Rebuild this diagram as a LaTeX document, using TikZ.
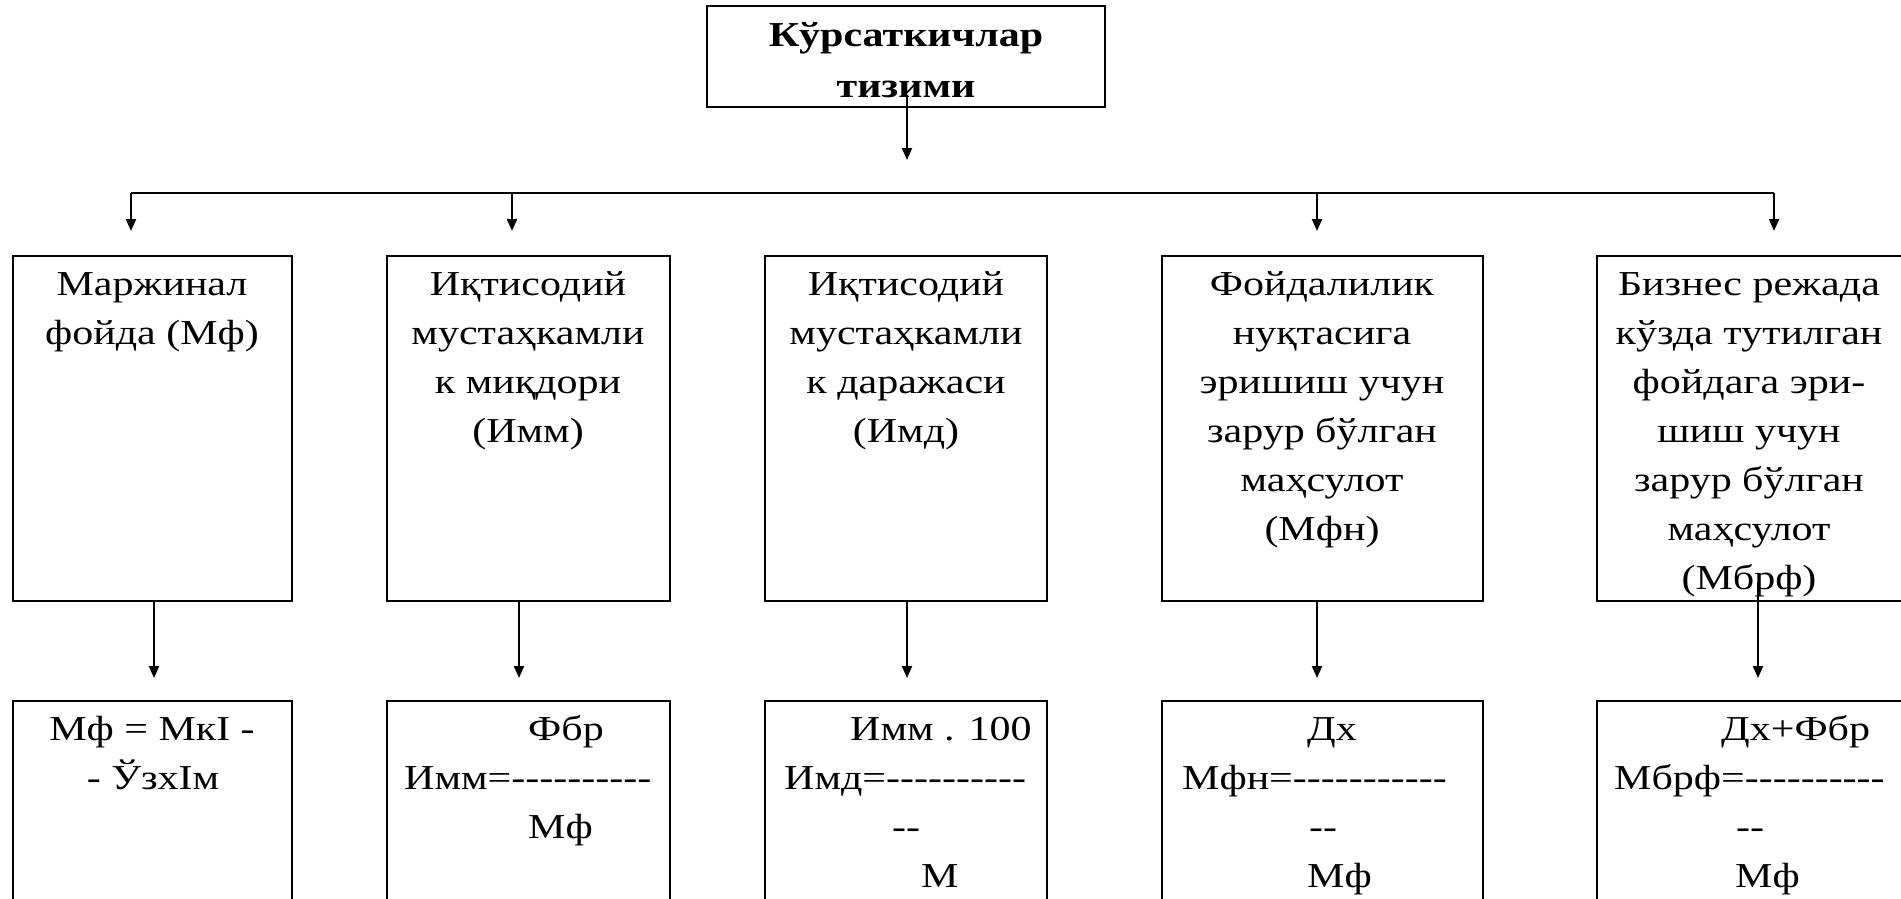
\documentclass[tikz,border=0pt]{standalone}
\usepackage{fontspec}
\setmainfont{Liberation Serif}[Ligatures=TeXOff,FakeStretch=1.2]
\usetikzlibrary{arrows.meta}
\begin{document}
\begin{tikzpicture}[x=1pt,y=-1pt,
  frame/.style={draw,line width=2.4pt},
  conn/.style={line width=2pt,-{Triangle[length=12pt,width=10pt]}},
  bar/.style={line width=2.4pt},
  txt/.style={inner sep=0pt,anchor=base,font=\fontsize{35}{49}\selectfont},
  txtl/.style={inner sep=0pt,anchor=base west,font=\fontsize{35}{49}\selectfont},
  ttl/.style={inner sep=0pt,anchor=base,font=\fontsize{35}{50}\selectfont\bfseries}]
\useasboundingbox (0,0) rectangle (1901,899);
\fill[white] (0,0) rectangle (1901,899);
% top box
\draw[frame] (707,6) rectangle (1105,107);
\node[ttl] (t1) at (906,47) {Кўрсаткичлар};
\node[ttl] (t2) at (906,97) {тизими};
\coordinate (ts) at (907,95);
\coordinate (te) at (907,160);
\draw[conn] (ts) -- (te);
% bus
\coordinate (bl) at (131,193);
\coordinate (br) at (1774,193);
\draw[bar] (bl) -- (br);
% row 1 boxes
\draw[frame] (13,256) rectangle (292,601);
\draw[frame] (387,256) rectangle (670,601);
\draw[frame] (765,256) rectangle (1047,601);
\draw[frame] (1162,256) rectangle (1483,601);
\draw[frame] (1597,256) rectangle (1915,601);
\foreach \xx/\nm in {131/a,512/b,1317/d,1774/e}{
  \coordinate (s\nm) at (\xx,193);
  \coordinate (e\nm) at (\xx,231);
  \draw[conn] (s\nm) -- (e\nm);
}
% row 1 texts
\foreach \t [count=\i] in {Маржинал,фойда (Мф)}
  \node[txt] (a\i) at (152,{295+49*(\i-1)}) {\t};
\foreach \t [count=\i] in {Иқтисодий,мустаҳкамли,к миқдори,(Имм)}
  \node[txt] (b\i) at (528,{295+49*(\i-1)}) {\t};
\foreach \t [count=\i] in {Иқтисодий,мустаҳкамли,к даражаси,(Имд)}
  \node[txt] (c\i) at (906,{295+49*(\i-1)}) {\t};
\foreach \t [count=\i] in {Фойдалилик,нуқтасига,эришиш учун,зарур бўлган,маҳсулот,(Мфн)}
  \node[txt] (d\i) at (1322,{295+49*(\i-1)}) {\t};
\foreach \t [count=\i] in {Бизнес режада,кўзда тутилган,фойдага эри-,шиш учун,зарур бўлган,маҳсулот,(Мбрф)}
  \node[txt] (e\i) at (1749,{295+49*(\i-1)}) {\t};
% arrows row1 -> row2
\foreach \xx/\yy/\nm in {154/601/a,519/601/b,907/601/c,1317/601/d,1758/582/e}{
  \coordinate (u\nm) at (\xx,\yy);
  \coordinate (v\nm) at (\xx,678);
  \draw[conn] (u\nm) -- (v\nm);
}
% row 2 boxes
\draw[frame] (13,701) rectangle (292,915);
\draw[frame] (387,701) rectangle (670,915);
\draw[frame] (765,701) rectangle (1047,915);
\draw[frame] (1162,701) rectangle (1483,915);
\draw[frame] (1597,701) rectangle (1915,915);
% row 2 texts
\node[txt] (f1) at (152,740) {Мф = МкI -};
\node[txt] (f2) at (153,789) {- ЎзхIм};
\node[txtl] (g1) at (528,740) {Фбр};
\node[txtl] (g2) at (404,789) {Имм=----------};
\node[txtl] (g3) at (528,838) {Мф};
\node[txtl] (h1) at (850,740) {Имм . 100};
\node[txtl] (h2) at (784,789) {Имд=----------};
\node[txtl] (h3) at (892,838) {--};
\node[txtl] (h4) at (921,887) {М};
\node[txtl] (i1) at (1307,740) {Дх};
\node[txtl] (i2) at (1182,789) {Мфн=-----------};
\node[txtl] (i3) at (1309,838) {--};
\node[txtl] (i4) at (1307,887) {Мф};
\node[txtl] (j1) at (1721,740) {Дх+Фбр};
\node[txtl] (j2) at (1614,789) {Мбрф=----------};
\node[txtl] (j3) at (1736,838) {--};
\node[txtl] (j4) at (1735,887) {Мф};
\end{tikzpicture}
\end{document}
